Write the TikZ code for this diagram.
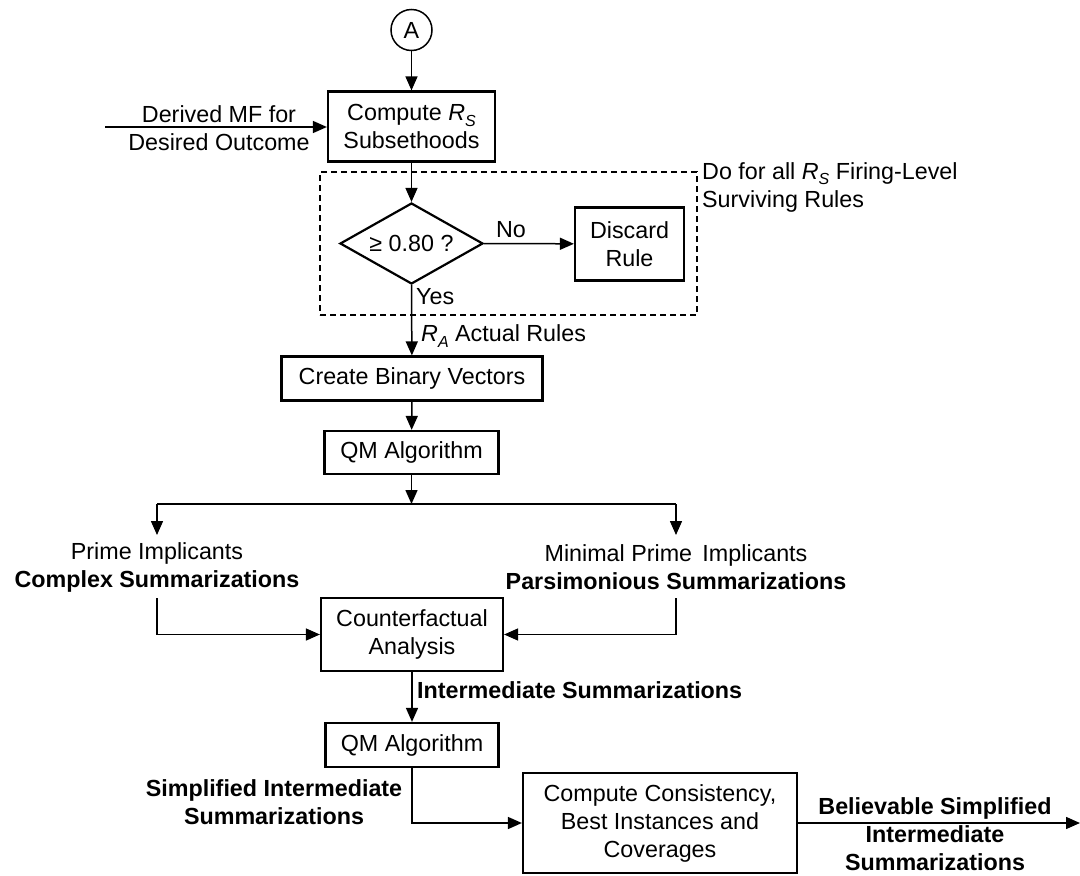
\documentclass[tikz,border=0pt]{standalone}
\usepackage{fontspec}
\setmainfont{Liberation Sans}
\usetikzlibrary{arrows.meta,shapes.geometric}
\newcommand\Rsub[1]{\textit{R}\raisebox{-0.45ex}{\fontsize{16}{16}\selectfont\textit{#1}}}
\begin{document}
\begin{tikzpicture}[x=1pt,y=-1pt,
  every node/.style={font=\fontsize{23.3}{28}\selectfont, inner sep=0pt},
  box/.style={draw, line width=2.2pt, align=center},
  conn/.style={line width=1.5pt},
  arr/.style={conn, -{Triangle[length=14pt,width=12pt]}},
  lbl/.style={align=center},
  blbl/.style={align=center, font=\fontsize{23.3}{28}\selectfont\bfseries}]
\useasboundingbox (0,0) rectangle (1080,876);
% nodes
\node[draw, circle, line width=1.5pt, minimum size=41pt] (A) at (411.5,30) {A};
\node[box, minimum width=167pt, minimum height=70pt] (comp) at (411.5,126.5) {Compute \Rsub{S}\\Subsethoods};
\node[lbl] (mf) at (219,128) {Derived MF for\\Desired Outcome};
\coordinate (mfstart) at (105,127);
\node[draw, dashed, dash pattern=on 6pt off 4pt, line width=1.5pt, minimum width=377pt, minimum height=143pt] (loop) at (508.5,243.5) {};
\node[anchor=west, align=left] (dolbl) at (702,187) {Do for all \Rsub{S} Firing-Level\\Surviving Rules};
\node[draw, diamond, line width=2.2pt, aspect=1.77, minimum width=143pt, minimum height=81pt] (dia) at (411.5,243.5) {≥ 0.80 ?};
\node[box, minimum width=109pt, minimum height=73pt] (disc) at (629.5,244) {Discard\\Rule};
\node (no) at (511,230) {No};
\node[anchor=west] (yes) at (416,297) {Yes};
\node[anchor=west] (ra) at (421,336) {\Rsub{A} Actual Rules};
\node[box, minimum width=261pt, minimum height=44pt] (cbv) at (412,378.5) {Create Binary Vectors};
\node[box, minimum width=174pt, minimum height=43pt] (qm1) at (411.5,452.5) {QM Algorithm};
\coordinate (br) at (411.5,504);
\coordinate (brl) at (157,504);
\coordinate (brr) at (676,504);
\coordinate (pil) at (157,535);
\coordinate (pir) at (676,535);
\node[lbl] (prime) at (157,567) {Prime Implicants\\\textbf{Complex Summarizations}};
\node[lbl] (mprime) at (676,567) {Minimal Prime\, Implicants\\\textbf{Parsimonious Summarizations}};
\coordinate (cl) at (157,598);
\coordinate (cr) at (676,598);
\node[box, minimum width=182pt, minimum height=73pt] (cf) at (412,634.5) {Counterfactual\\Analysis};
\node[anchor=west, font=\fontsize{23.3}{28}\selectfont\bfseries] (inter) at (417,690) {Intermediate Summarizations};
\node[box, minimum width=173pt, minimum height=44pt] (qm2) at (412,745) {QM Algorithm};
\node[blbl] (simp) at (274,802.5) {Simplified Intermediate\\Summarizations};
\node[box, minimum width=274pt, minimum height=100pt] (cc) at (660,823) {Compute Consistency,\\Best Instances and\\Coverages};
\node[blbl] (bel) at (935,834) {Believable Simplified\\Intermediate\\Summarizations};
\coordinate (out) at (1080,823);
% connectors
\draw[arr] (A) -- (comp);
\draw[arr] (mfstart) -- (mfstart -| comp.west);
\draw[arr] (comp) -- (dia.north);
\draw[arr] (dia.east) -- (disc);
\draw[arr] (dia.south) -- (cbv);
\draw[arr] (cbv) -- (qm1);
\draw[arr] (qm1) -- (br);
\draw[conn] (brl) -- (brr);
\draw[arr] (brl) -- (pil);
\draw[arr] (brr) -- (pir);
\draw[arr] (cl) |- (cf.west);
\draw[arr] (cr) |- (cf.east);
\draw[arr] (cf) -- (qm2);
\draw[arr] (qm2.south) |- (cc.west);
\draw[arr] (cc.east) -- (out);
\end{tikzpicture}
\end{document}
